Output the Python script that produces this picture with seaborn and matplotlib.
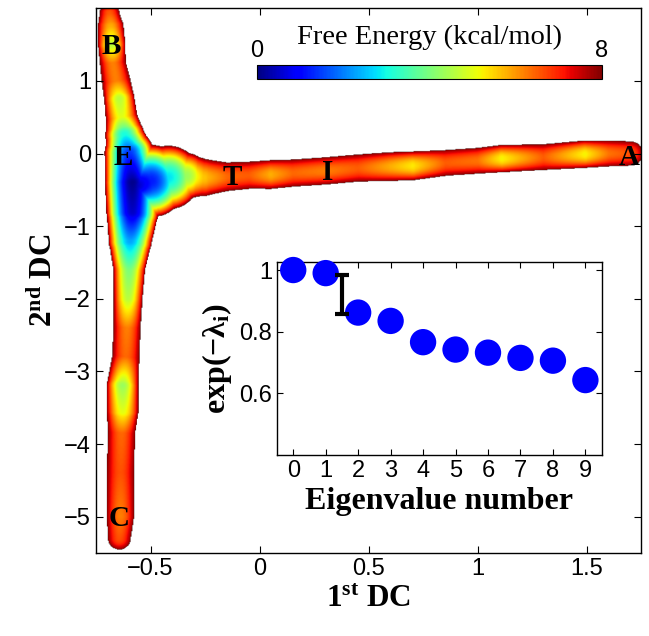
import numpy as np
import seaborn as sns
import matplotlib.pyplot as plt

sns.set_style("ticks")
plt.rcParams['font.family'] = ['Liberation Sans', 'DejaVu Sans']
plt.rcParams['mathtext.fontset'] = 'custom'
plt.rcParams['mathtext.rm'] = 'Liberation Serif'
plt.rcParams['mathtext.bf'] = 'Liberation Serif:bold'
plt.rcParams['mathtext.it'] = 'Liberation Serif:italic'
for k in ['text.color', 'axes.labelcolor', 'xtick.color', 'ytick.color', 'axes.edgecolor']:
    plt.rcParams[k] = 'black'

# ridge of the free energy surface: centre, min energy, half width
vert_x = [-0.69, -0.685, -0.68, -0.675, -0.66, -0.645, -0.635, -0.62, -0.60, -0.585, -0.585,
          -0.595, -0.60, -0.605, -0.61, -0.615, -0.63, -0.63, -0.635, -0.64, -0.64, -0.645]
vert_y = [1.93, 1.75, 1.5, 1.25, 1.0, 0.75, 0.5, 0.25, 0.0, -0.4, -0.8,
          -1.2, -1.6, -2.0, -2.4, -2.8, -3.2, -3.55, -3.85, -4.4, -5.0, -5.3]
vert_e = [6.5, 5.8, 4.6, 6.2, 6.2, 4.6, 5.0, 3.0, 1.4, 0.1, 0.5,
          2.3, 4.0, 4.6, 6.2, 6.4, 4.3, 5.0, 6.4, 6.6, 6.2, 6.6]
vert_w = [0.14, 0.18, 0.19, 0.18, 0.20, 0.21, 0.22, 0.27, 0.34, 0.38, 0.36,
          0.30, 0.22, 0.20, 0.19, 0.19, 0.22, 0.22, 0.19, 0.19, 0.19, 0.16]

horiz_x = [-0.58, -0.5, -0.42, -0.34, -0.26, -0.15, -0.05, 0.05, 0.15, 0.30, 0.45,
           0.60, 0.70, 0.85, 1.00, 1.11, 1.30, 1.49, 1.60, 1.70]
horiz_y = [-0.45, -0.38, -0.33, -0.31, -0.33, -0.32, -0.30, -0.29, -0.27, -0.24, -0.20,
           -0.18, -0.17, -0.13, -0.10, -0.07, -0.05, -0.01, 0.0, 0.0]
horiz_e = [0.2, 1.2, 2.8, 4.3, 5.6, 6.4, 6.5, 5.8, 6.4, 6.2, 6.5,
           5.8, 5.3, 6.5, 6.3, 5.2, 6.5, 5.2, 6.3, 6.6]
horiz_w = [0.33, 0.50, 0.44, 0.32, 0.26, 0.20, 0.19, 0.20, 0.19, 0.19, 0.19,
           0.20, 0.20, 0.18, 0.18, 0.19, 0.18, 0.19, 0.18, 0.17]

state_labels = ['B', 'E', 'T', 'I', 'A', 'C']
state_x = [-0.68, -0.625, -0.125, 0.31, 1.695, -0.645]
state_y = [1.48, -0.05, -0.33, -0.26, -0.05, -5.02]

eig_idx = [0, 1, 2, 3, 4, 5, 6, 7, 8, 9]
eig_val = [1.0, 0.99, 0.862, 0.835, 0.766, 0.742, 0.732, 0.715, 0.706, 0.643]
gap_x, gap_lo, gap_hi = 1.5, 0.857, 0.985

# build the surface on a grid
xs = np.linspace(-0.75, 1.75, 600)
ys = np.linspace(-5.5, 2.0, 800)
X, Y = np.meshgrid(xs, ys)
sx = 3.0  # x data units -> y data units on screen
F = np.full(X.shape, np.inf)
for px, py, pe, pw in [(vert_x, vert_y, vert_e, vert_w), (horiz_x, horiz_y, horiz_e, horiz_w)]:
    for i in range(len(px) - 1):
        ax0, ay0 = px[i] * sx, py[i]
        bx0, by0 = px[i + 1] * sx, py[i + 1]
        dx, dy = bx0 - ax0, by0 - ay0
        t = ((X * sx - ax0) * dx + (Y - ay0) * dy) / (dx * dx + dy * dy)
        t = np.clip(t, 0, 1)
        d = np.hypot(X * sx - (ax0 + t * dx), Y - (ay0 + t * dy))
        e = pe[i] + t * (pe[i + 1] - pe[i])
        w = pw[i] + t * (pw[i + 1] - pw[i])
        F = np.minimum(F, e + (8.05 - e) * (d / w) ** 2)
F = np.ma.masked_where(F > 8, F)

fig = plt.figure(figsize=(6.49, 6.36), dpi=100)
ax = fig.add_axes([0.148, 0.1305, 0.840, 0.8565])
im = ax.imshow(F, extent=[xs[0], xs[-1], ys[0], ys[-1]], origin='lower', cmap='jet',
               vmin=0, vmax=8, aspect='auto', interpolation='bilinear')
ax.set_xlim(-0.75, 1.75)
ax.set_ylim(-5.5, 2.0)
ax.set_xticks([-0.5, 0, 0.5, 1, 1.5])
ax.set_xticklabels(['\u22120.5', '0', '0.5', '1', '1.5'])
ax.set_yticks([1, 0, -1, -2, -3, -4, -5])
ax.set_yticklabels(['1', '0', '\u22121', '\u22122', '\u22123', '\u22124', '\u22125'])
ax.tick_params(direction='in', top=True, right=True, length=5, width=0.8, labelsize=17)
for s in ax.spines.values():
    s.set_linewidth(1.0)
ax.set_xlabel(r'1$^{\mathbf{st}}$ DC', family='Liberation Serif', fontweight='bold', fontsize=22.5)
ax.set_ylabel(r'2$^{\mathbf{nd}}$ DC', family='Liberation Serif', fontweight='bold', fontsize=22.5)
for lab, lx, ly in zip(state_labels, state_x, state_y):
    ax.text(lx, ly, lab, family='Liberation Serif', fontweight='bold', fontsize=21,
            ha='center', va='center')

# horizontal colour bar inside the main panel
cax = fig.add_axes([0.396, 0.876, 0.532, 0.0214])
cb = fig.colorbar(im, cax=cax, orientation='horizontal')
cb.set_ticks([])
cb.outline.set_linewidth(0.8)
fig.text(0.396, 0.903, '0', fontsize=17, ha='center', va='bottom')
fig.text(0.927, 0.903, '8', fontsize=17, ha='center', va='bottom')
fig.text(0.662, 0.922, 'Free Energy (kcal/mol)', family='Liberation Serif', fontsize=20.5,
         ha='center', va='bottom')

# inset: eigenvalue spectrum
axin = fig.add_axes([0.4268, 0.2846, 0.5002, 0.3039])
sns.scatterplot(x=eig_idx, y=eig_val, ax=axin, s=360, color='blue', edgecolor='none',
                zorder=3, clip_on=False)
axin.errorbar([gap_x], [(gap_lo + gap_hi) / 2], yerr=[(gap_hi - gap_lo) / 2], color='black',
              lw=3, capsize=5, capthick=3, zorder=4)
axin.set_xlim(-0.5, 9.5)
axin.set_ylim(0.4, 1.027)
axin.set_xticks(eig_idx)
axin.set_yticks([0.6, 0.8, 1])
axin.set_yticklabels(['0.6', '0.8', '1'])
axin.tick_params(direction='in', top=True, right=True, length=4, width=0.8, labelsize=17)
for s in axin.spines.values():
    s.set_linewidth(1.0)
axin.set_xlabel('Eigenvalue number', family='Liberation Serif', fontweight='bold', fontsize=23)
axin.set_ylabel('exp(\u2212\u03bb$_\\mathbf{i}$)', family='Liberation Serif', fontweight='bold',
                fontsize=23)

fig.savefig('out.png', dpi=100)
